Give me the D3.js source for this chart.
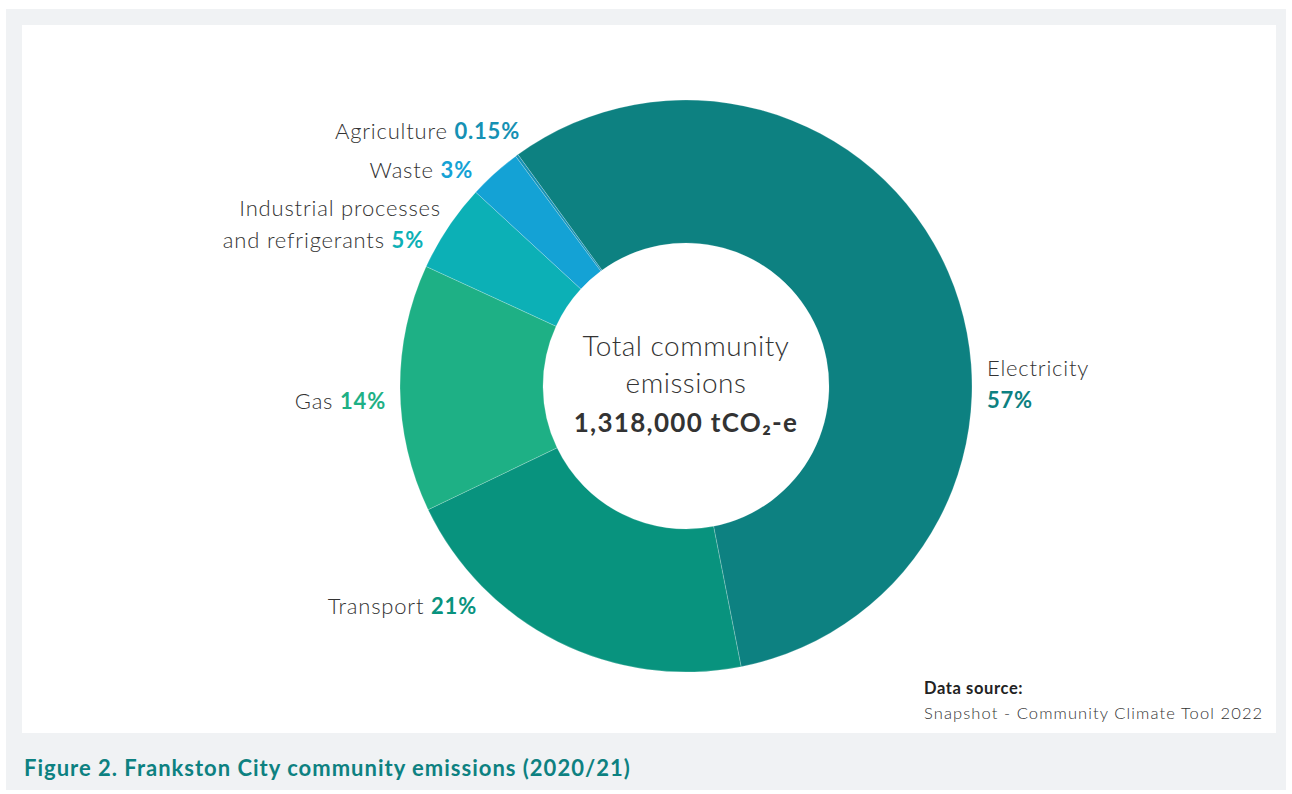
<!DOCTYPE html>
<head>
<meta charset="utf-8">
<style>
body { margin: 0; background: #fff; }
svg { display: block; font-family: Lato, "Open Sans", sans-serif; }
.lbl { font-weight: 300; fill: #333; font-size: 22px; letter-spacing: 0.8px; }
.pct { font-weight: 700; }
</style>
</head>
<body>
<script src="https://cdnjs.cloudflare.com/ajax/libs/d3/7.8.5/d3.min.js"></script>
<script>
// emissions by sector, per cent of total
var sectors = ["Electricity", "Transport", "Gas", "Industrial processes and refrigerants", "Waste", "Agriculture"];
var shares = [57, 21, 14, 5, 3, 0.15];
var shareLabels = ["57%", "21%", "14%", "5%", "3%", "0.15%"];
var colours = ["#0d8181", "#08937e", "#1eb085", "#0cb0b6", "#14a2d5", "#1591b4"];

(function() {
	var W = 1292, H = 794,
		cx = 686, cy = 386,
		outerR = 286, innerR = 143;

	var svg = d3.select("body").append("svg")
		.attr("width", W)
		.attr("height", H);

	// grey frame and white panel
	svg.append("rect").attr("x", 6).attr("y", 9).attr("width", 1280).attr("height", 781).attr("fill", "#f0f2f4");
	svg.append("rect").attr("x", 22).attr("y", 25).attr("width", 1254).attr("height", 708).attr("fill", "#fff");

	var pie = d3.pie()
		.sort(null)
		.startAngle(-36 * Math.PI / 180)
		.endAngle(324 * Math.PI / 180)
		.value(function(d) { return d; });

	var arc = d3.arc().innerRadius(innerR).outerRadius(outerR);

	var vis = svg.append("g").attr("transform", "translate(" + cx + "," + cy + ")");

	vis.selectAll("path")
		.data(pie(shares))
		.enter().append("path")
		.attr("d", arc)
		.attr("fill", function(d, i) { return colours[i]; })
		.attr("stroke", "#fff")
		.attr("stroke-opacity", 0.35)
		.attr("stroke-width", 0.6);

	// label placement: name text per line, whether the share goes on that line
	var labelPos = [
		{ x: 987, y: 376, anchor: "start", lines: [["Electricity", false], ["", true]] },
		{ x: 477, y: 614, anchor: "end", lines: [["Transport ", true]] },
		{ x: 386, y: 409, anchor: "end", lines: [["Gas ", true]] },
		{ x: 424, y: 216, anchor: "end", lines: [["Industrial processes", false], ["and refrigerants ", true]], firstX: 441 },
		{ x: 473, y: 178, anchor: "end", lines: [["Waste ", true]] },
		{ x: 520, y: 139, anchor: "end", lines: [["Agriculture ", true]] }
	];

	labelPos.forEach(function(p, i) {
		p.lines.forEach(function(ln, j) {
			var t = svg.append("text")
				.attr("class", "lbl")
				.attr("x", (j === 0 && p.firstX) ? p.firstX : p.x)
				.attr("y", p.y + j * 32)
				.attr("text-anchor", p.anchor);
			if (ln[0]) t.append("tspan").text(ln[0]);
			if (ln[1]) t.append("tspan").attr("class", "pct").attr("fill", colours[i]).text(shareLabels[i]);
		});
	});

	// centre text
	var centre = svg.append("g").attr("text-anchor", "middle");
	centre.append("text").attr("x", cx).attr("y", 356).attr("class", "lbl").style("font-size", "28px").style("letter-spacing", "0.5px").text("Total community");
	centre.append("text").attr("x", cx).attr("y", 393).attr("class", "lbl").style("font-size", "28px").style("letter-spacing", "0.5px").text("emissions");
	centre.append("text").attr("x", cx).attr("y", 432).attr("fill", "#333").style("font-size", "26px").style("font-weight", 700).style("letter-spacing", "1.3px").text("1,318,000 tCO\u2082-e");

	// source
	svg.append("text").attr("x", 924).attr("y", 694).attr("fill", "#222").style("font-size", "16.5px").style("font-weight", 700).style("letter-spacing", "0.6px").text("Data source:");
	svg.append("text").attr("x", 924).attr("y", 719).attr("fill", "#333").style("font-size", "16.5px").style("font-weight", 300).style("letter-spacing", "1.1px").text("Snapshot - Community Climate Tool 2022");

	// caption
	svg.append("text").attr("x", 24).attr("y", 776).attr("fill", "#0d8181").style("font-size", "22px").style("font-weight", 700).style("letter-spacing", "1px").text("Figure 2. Frankston City community emissions (2020/21)");
})();
</script>
</body>
